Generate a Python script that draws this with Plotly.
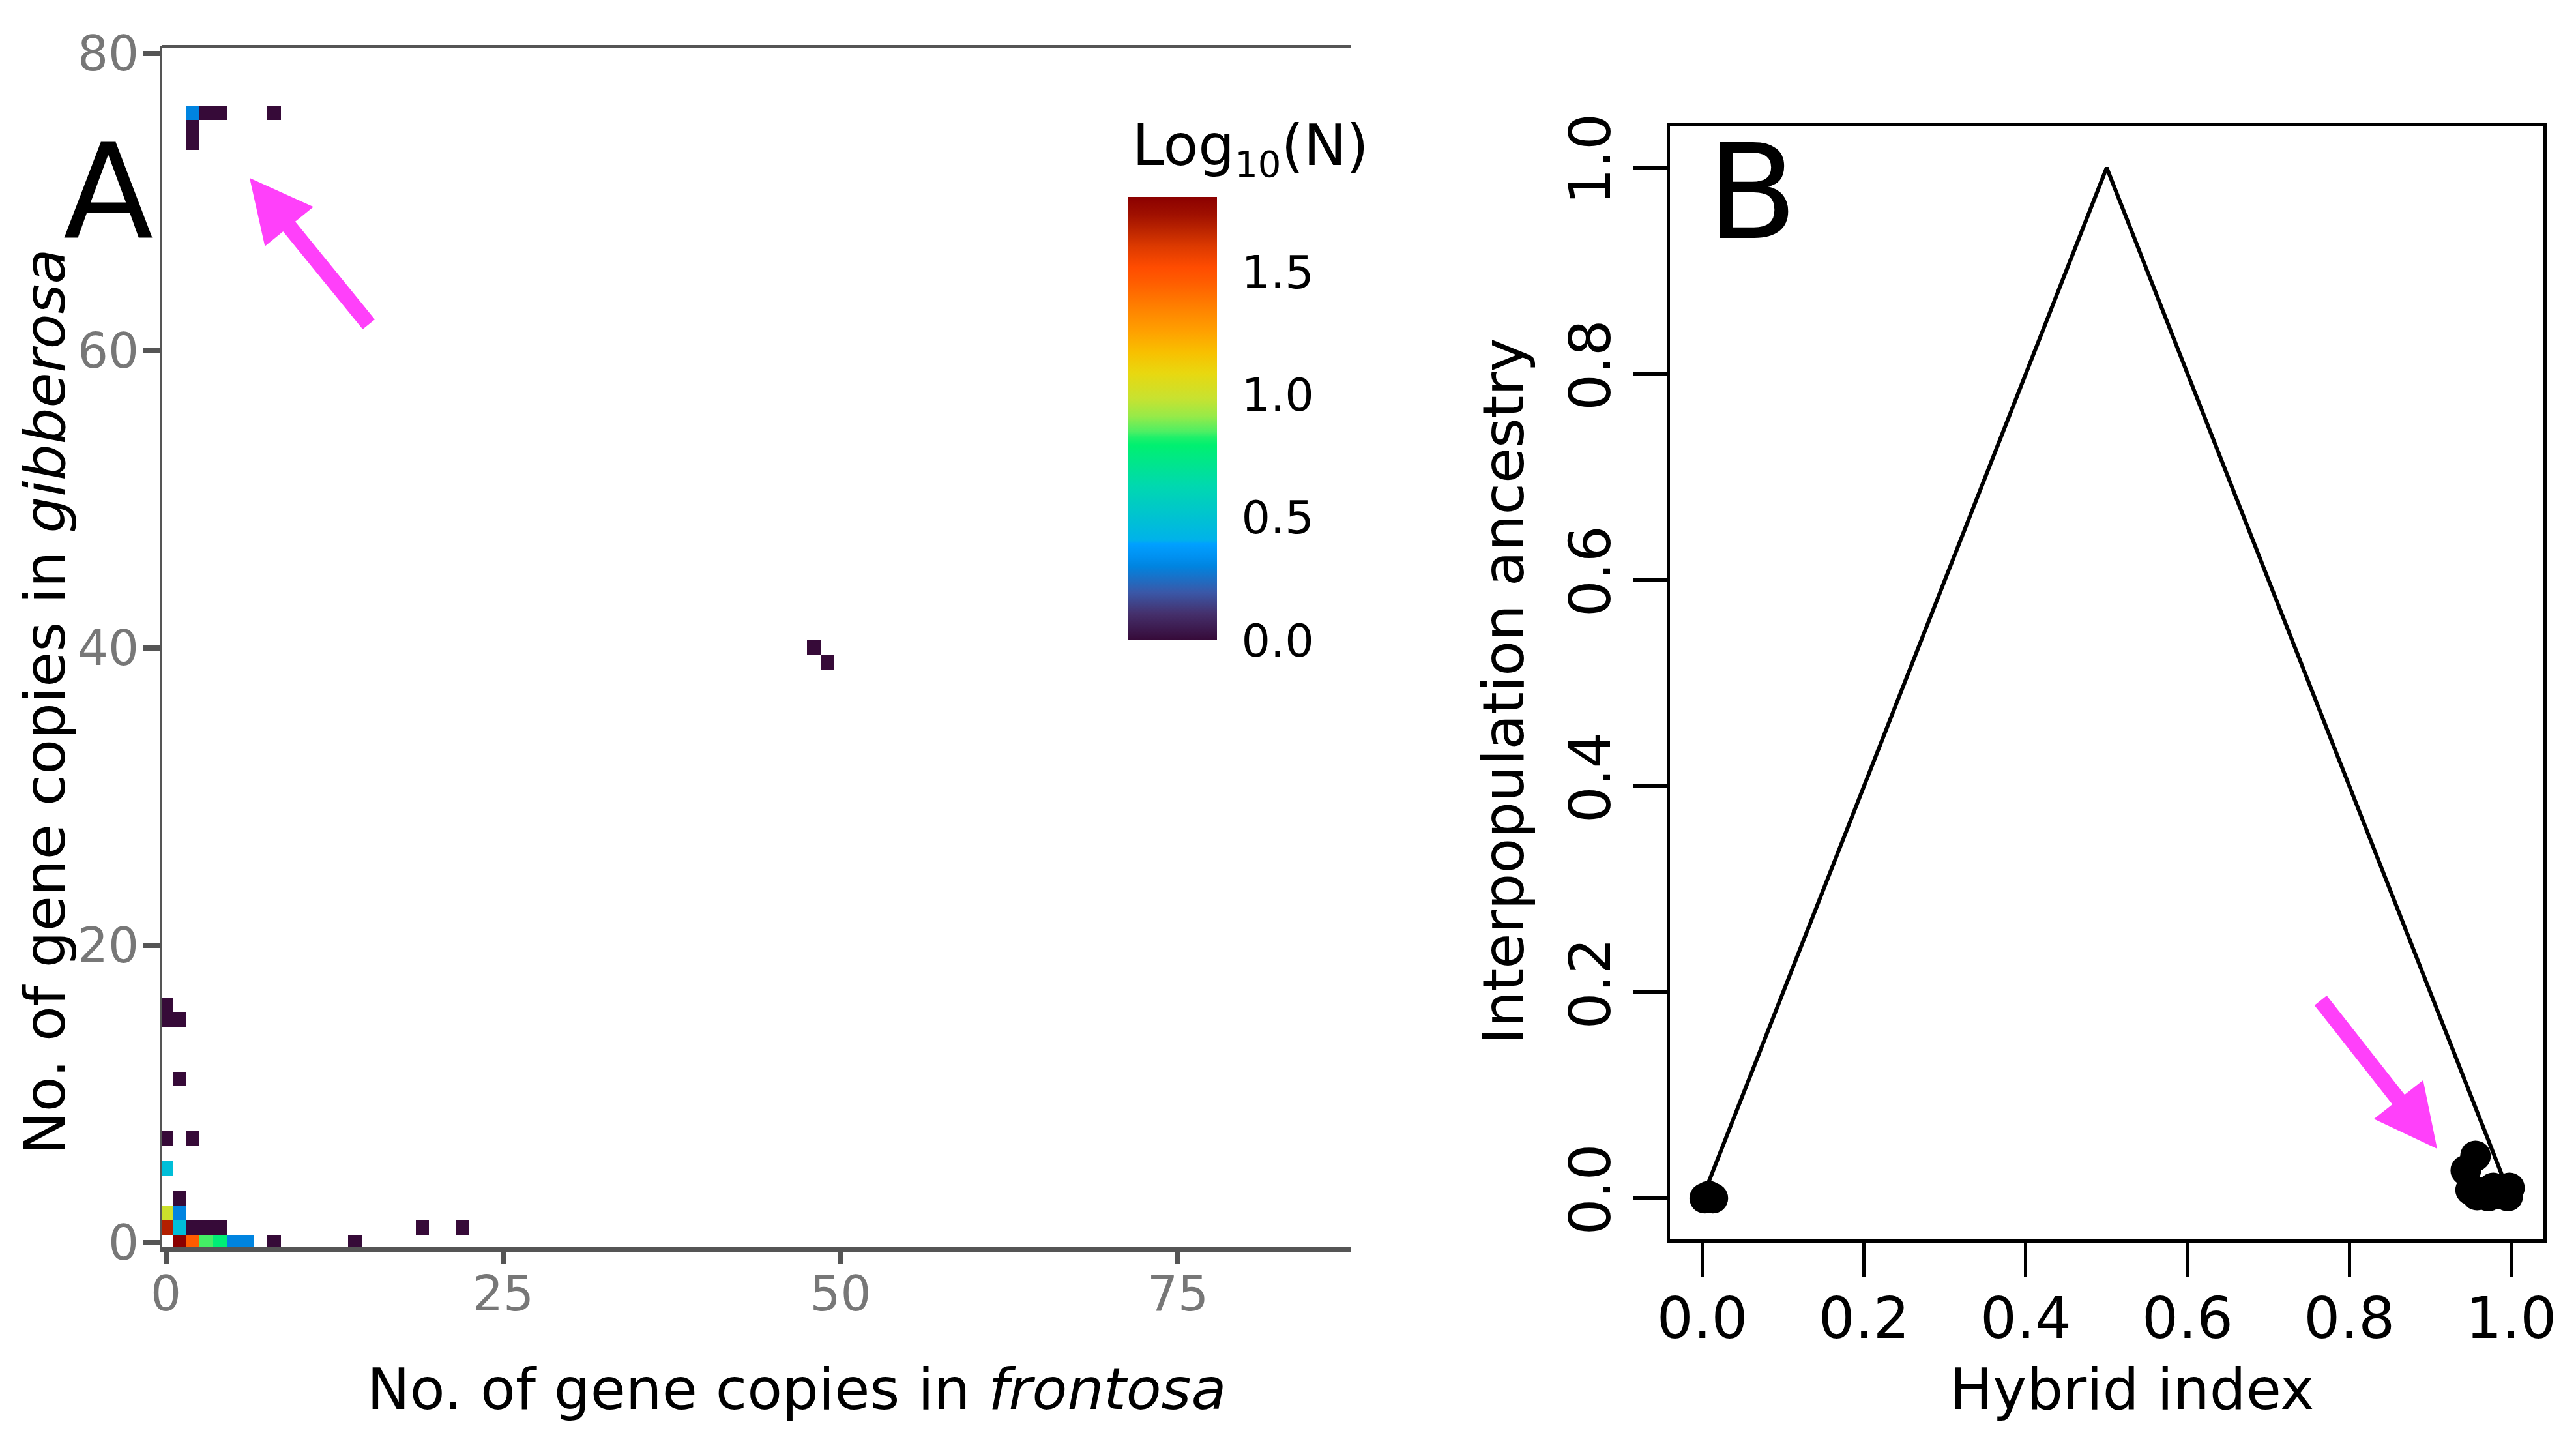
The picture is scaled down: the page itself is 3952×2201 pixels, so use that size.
import numpy as np
import plotly.graph_objects as go

W, H = 3952, 2201
FONT = "DejaVu Sans"
OFF = 8  # page body margin compensation

# ---------------- Panel A data: 2D histogram of gene copy counts ----------------
cell_frontosa = [1, 2, 3, 4, 5, 6, 8, 14,
                 0, 1, 2, 3, 4, 19, 22,
                 0, 1,
                 1,
                 0,
                 0, 2,
                 1,
                 0, 1,
                 0,
                 49,
                 48,
                 2,
                 2,
                 2, 3, 4, 8]
cell_gibberosa = [0, 0, 0, 0, 0, 0, 0, 0,
                  1, 1, 1, 1, 1, 1, 1,
                  2, 2,
                  3,
                  5,
                  7, 7,
                  11,
                  15, 15,
                  16,
                  39,
                  40,
                  74,
                  75,
                  76, 76, 76, 76]
cell_count = [64, 29, 7, 6, 2, 2, 1, 1,
              49, 3, 1, 1, 1, 1, 1,
              10, 2,
              1,
              3,
              1, 1,
              1,
              1, 1,
              1,
              1,
              1,
              1,
              1,
              2, 1, 1, 1]

x_bins = list(range(0, 88))
y_bins = list(range(0, 81))
a_xticks = [0, 25, 50, 75]
a_yticks = [0, 20, 40, 60, 80]
cbar_ticks = [0.0, 0.5, 1.0, 1.5]

# ---------------- Panel B data ----------------
tri_x = [0.0, 0.5, 1.0]
tri_y = [0.0, 1.0, 0.0]
hyb_index = [0.003, 0.008, 0.013,
             0.956, 0.944, 0.950, 0.958, 0.966, 0.972, 0.978, 0.984, 0.990, 0.996, 0.998]
interpop = [0.000, 0.002, 0.000,
            0.041, 0.027, 0.008, 0.003, 0.006, 0.002, 0.010, 0.004, 0.008, 0.002, 0.010]
b_ticks = [0.0, 0.2, 0.4, 0.6, 0.8, 1.0]
b_ticklabels = ["0.0", "0.2", "0.4", "0.6", "0.8", "1.0"]

# build heatmap matrix
z = np.full((len(y_bins), len(x_bins)), np.nan)
for fx, gy, n in zip(cell_frontosa, cell_gibberosa, cell_count):
    z[gy, fx] = np.log10(n)
zmax = float(np.nanmax(z))

colorscale = [
    [0.000, "#360a38"],
    [0.060, "#45306c"],
    [0.108, "#3a58a8"],
    [0.167, "#0084e0"],
    [0.187, "#0090f0"],
    [0.2175, "#00a0ff"],
    [0.2255, "#00b2ea"],
    [0.347, "#00d8b0"],
    [0.440, "#00f070"],
    [0.458, "#20f06a"],
    [0.470, "#4cef64"],
    [0.506, "#98ea48"],
    [0.546, "#c8e230"],
    [0.602, "#e8d810"],
    [0.649, "#f8c000"],
    [0.697, "#ffa000"],
    [0.745, "#ff8400"],
    [0.809, "#ff5c00"],
    [0.841, "#ff4c00"],
    [0.888, "#dd3a00"],
    [0.920, "#c02800"],
    [0.960, "#a01000"],
    [1.000, "#8b0000"],
]

def px_x(p):
    return (p - OFF) / W

def px_y(p):
    return 1 - (p - OFF) / H

fig = go.Figure()

fig.add_trace(go.Heatmap(
    x=x_bins, y=y_bins, z=z,
    zmin=0, zmax=zmax,
    colorscale=colorscale,
    xaxis="x", yaxis="y",
    hoverongaps=False,
    colorbar=dict(
        x=px_x(1731), xanchor="left", xpad=0,
        y=px_y(642), yanchor="middle", ypad=0,
        len=680, lenmode="pixels",
        thickness=136, thicknessmode="pixels",
        outlinewidth=0,
        tickvals=cbar_ticks, tickformat=".1f",
        ticks="outside", ticklen=24, tickcolor="rgba(0,0,0,0)",
        tickfont=dict(family=FONT, size=70, color="black"),
    ),
))

fig.add_trace(go.Scatter(
    x=tri_x, y=tri_y, mode="lines",
    line=dict(color="black", width=6),
    xaxis="x2", yaxis="y2", showlegend=False,
))
fig.add_trace(go.Scatter(
    x=hyb_index, y=interpop, mode="markers",
    marker=dict(color="black", size=47, line=dict(width=0)),
    xaxis="x2", yaxis="y2", showlegend=False,
))

grey_line = "#555555"
fig.update_layout(
    width=W, height=H,
    margin=dict(l=0, r=0, t=0, b=0, pad=0, autoexpand=False),
    paper_bgcolor="white", plot_bgcolor="white",
    showlegend=False,
    font=dict(family=FONT, color="black"),
    xaxis=dict(
        domain=[px_x(249), px_x(2072)], range=[-0.27, 87.8], anchor="y",
        tickvals=a_xticks, ticks="outside", ticklen=17, tickwidth=8, tickcolor=grey_line,
        showline=True, linewidth=8, linecolor=grey_line,
        tickfont=dict(family=FONT, size=74, color="#777777"),
        ticklabelstandoff=-17,
        showgrid=False, zeroline=False,
    ),
    yaxis=dict(
        domain=[px_y(1913), px_y(71)], range=[-0.32, 80.47], anchor="x",
        tickvals=a_yticks, ticks="outside", ticklen=25, tickwidth=8, tickcolor=grey_line,
        showline=True, linewidth=4, linecolor=grey_line,
        tickfont=dict(family=FONT, size=74, color="#777777"),
        ticklabelstandoff=-8,
        showgrid=False, zeroline=False,
    ),
    xaxis2=dict(
        domain=[px_x(2562), px_x(3902)], range=[-0.04, 1.04], anchor="y2",
        tickvals=b_ticks, ticktext=b_ticklabels,
        ticks="outside", ticklen=52, tickwidth=5, tickcolor="black",
        showline=True, linewidth=5, linecolor="black", mirror=True,
        tickfont=dict(family=FONT, size=88, color="black"),
        ticklabelstandoff=-12,
        showgrid=False, zeroline=False,
    ),
    yaxis2=dict(
        domain=[px_y(1901), px_y(194)], range=[-0.04, 1.04], anchor="x2",
        tickvals=b_ticks, ticktext=b_ticklabels, tickangle=-90,
        ticks="outside", ticklen=52, tickwidth=5, tickcolor="black",
        showline=True, linewidth=5, linecolor="black", mirror=True,
        tickfont=dict(family=FONT, size=88, color="black"),
        showgrid=False, zeroline=False,
    ),
)

# top border of panel A
fig.add_shape(type="line", xref="x domain", yref="y domain",
              x0=0, x1=1, y0=1, y1=1, line=dict(color=grey_line, width=4))
# small white marks on the colour bar
for xa, xb in [(1731, 1759), (1839, 1867)]:
    fig.add_shape(type="line", xref="paper", yref="paper",
                  x0=px_x(xa), x1=px_x(xb), y0=px_y(830), y1=px_y(830),
                  line=dict(color="white", width=2))

ann = []
ann.append(dict(text="A", x=px_x(166), y=px_y(295), xref="paper", yref="paper",
                xanchor="center", yanchor="middle", showarrow=False,
                font=dict(family=FONT, size=202, color="black")))
ann.append(dict(text="B", x=px_x(2617), y=px_y(295), xref="paper", yref="paper",
                xanchor="left", yanchor="middle", showarrow=False,
                font=dict(family=FONT, size=202, color="black")))
ann.append(dict(text="No. of gene copies in <i>frontosa</i>", x=px_x(1222), y=px_y(2130),
                xref="paper", yref="paper", xanchor="center", yanchor="middle", showarrow=False,
                font=dict(family=FONT, size=88, color="black")))
ann.append(dict(text="No. of gene copies in <i>gibberosa</i>", x=px_x(68), y=px_y(1077),
                xref="paper", yref="paper", xanchor="center", yanchor="middle", showarrow=False,
                textangle=-90, font=dict(family=FONT, size=88, color="black")))
ann.append(dict(text="Hybrid index", x=px_x(3270), y=px_y(2130),
                xref="paper", yref="paper", xanchor="center", yanchor="middle", showarrow=False,
                font=dict(family=FONT, size=88, color="black")))
ann.append(dict(text="Interpopulation ancestry", x=px_x(2306), y=px_y(1060),
                xref="paper", yref="paper", xanchor="center", yanchor="middle", showarrow=False,
                textangle=-90, font=dict(family=FONT, size=88, color="black")))
ann.append(dict(text='Log<sub><span style="font-size:56px">10</span></sub>(N)',
                x=px_x(1735), y=px_y(228),
                xref="paper", yref="paper", xanchor="left", yanchor="middle", showarrow=False,
                font=dict(family=FONT, size=88, color="black")))

pink = "#ff40fa"
ann.append(dict(text="", x=px_x(383), y=px_y(273), xref="paper", yref="paper",
                ax=184, ay=226, axref="pixel", ayref="pixel",
                showarrow=True, arrowhead=2, arrowsize=0.8, arrowwidth=24, arrowcolor=pink))
ann.append(dict(text="", x=px_x(3739), y=px_y(1762), xref="paper", yref="paper",
                ax=-180, ay=-229, axref="pixel", ayref="pixel",
                showarrow=True, arrowhead=2, arrowsize=0.8, arrowwidth=24, arrowcolor=pink))
fig.update_layout(annotations=ann)

fig.write_html("out.html")
